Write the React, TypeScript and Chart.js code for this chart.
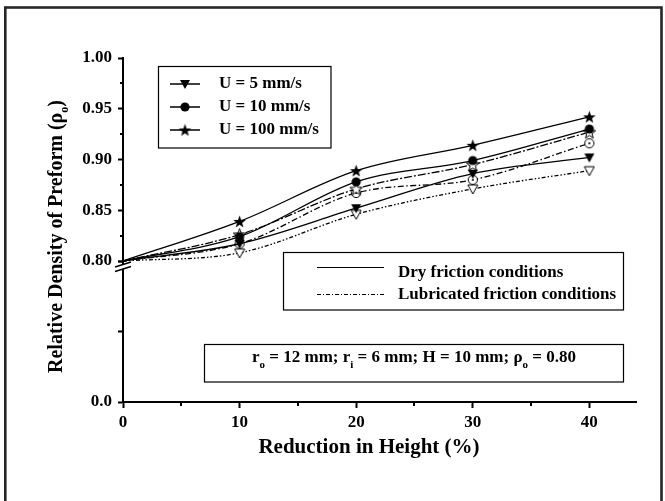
import React, { useEffect, useRef } from 'react';
import { Chart, registerables } from 'chart.js';

Chart.register(...registerables);

// Reduction in height (%) for every series
const reduction = [0, 10, 20, 30, 40];

// Relative density, dry friction
const dryU5 = [0.8, 0.817, 0.852, 0.886, 0.902];
const dryU10 = [0.8, 0.824, 0.878, 0.899, 0.93];
const dryU100 = [0.8, 0.839, 0.889, 0.914, 0.942];

// Relative density, lubricated friction
const lubU5 = [0.8, 0.808, 0.846, 0.871, 0.889];
const lubU10 = [0.8, 0.817, 0.867, 0.88, 0.916];
const lubU100 = [0.8, 0.826, 0.871, 0.895, 0.927];

const speedLabels = ['U = 5 mm/s', 'U = 10 mm/s', 'U = 100 mm/s'];
const frictionLabels = ['Dry friction conditions', 'Lubricated friction conditions'];
const xTitle = 'Reduction in Height (%)';

const xMinorTicks = [5, 15, 25, 35];
const yMinorTicks = [0.825, 0.875, 0.925, 0.975];

const FONT = "'Liberation Serif', 'Times New Roman', serif";

type Kind = 'tri' | 'circle' | 'star';

function makeMarker(kind: Kind, filled: boolean): HTMLCanvasElement {
  const size = kind === 'star' ? 15 : 12;
  const c = document.createElement('canvas');
  c.width = size;
  c.height = size;
  const g = c.getContext('2d')!;
  const m = size / 2;
  g.beginPath();
  if (kind === 'tri') {
    g.moveTo(m - 5, m - 4);
    g.lineTo(m + 5, m - 4);
    g.lineTo(m, m + 5);
    g.closePath();
  } else if (kind === 'circle') {
    g.arc(m, m, 4.6, 0, Math.PI * 2);
  } else {
    for (let k = 0; k < 10; k++) {
      const r = k % 2 === 0 ? 6.6 : 2.7;
      const a = -Math.PI / 2 + (k * Math.PI) / 5;
      const px = m + r * Math.cos(a);
      const py = m + 0.6 + r * Math.sin(a);
      if (k === 0) g.moveTo(px, py);
      else g.lineTo(px, py);
    }
    g.closePath();
  }
  if (filled) {
    g.fillStyle = '#000';
    g.fill();
  } else {
    g.fillStyle = '#fff';
    g.fill();
    g.lineWidth = 1;
    g.strokeStyle = '#000';
    g.stroke();
    if (kind === 'circle') {
      g.beginPath();
      g.arc(m, m, 1.1, 0, Math.PI * 2);
      g.fillStyle = '#000';
      g.fill();
    }
  }
  return c;
}

type Part = { t: string; sub?: boolean };

function drawRich(ctx: CanvasRenderingContext2D, parts: Part[], cx: number, cy: number, size: number) {
  const main = `bold ${size}px ${FONT}`;
  const small = `bold ${Math.round(size * 0.62)}px ${FONT}`;
  let total = 0;
  const widths = parts.map((p) => {
    ctx.font = p.sub ? small : main;
    const w = ctx.measureText(p.t).width;
    total += w;
    return w;
  });
  let x = cx - total / 2;
  ctx.textAlign = 'left';
  ctx.textBaseline = 'middle';
  ctx.fillStyle = '#000';
  parts.forEach((p, i) => {
    ctx.font = p.sub ? small : main;
    ctx.fillText(p.t, x, p.sub ? cy + size * 0.42 : cy);
    x += widths[i];
  });
}

function line(ctx: CanvasRenderingContext2D, x1: number, y1: number, x2: number, y2: number) {
  ctx.beginPath();
  ctx.moveTo(x1, y1);
  ctx.lineTo(x2, y2);
  ctx.stroke();
}

export default function App() {
  const ref = useRef<HTMLCanvasElement | null>(null);

  useEffect(() => {
    const canvas = ref.current;
    if (!canvas) return;

    const filledMarks = [makeMarker('tri', true), makeMarker('circle', true), makeMarker('star', true)];
    const openMarks = [makeMarker('tri', false), makeMarker('circle', false), makeMarker('star', false)];

    const pts = (ys: number[]) => reduction.map((x, i) => ({ x, y: ys[i] }));
    const radius = reduction.map((_, i) => (i === 0 ? 0 : 6));

    const series = (data: number[], mark: HTMLCanvasElement, dash: number[]) => ({
      data: pts(data),
      borderColor: '#000',
      backgroundColor: '#000',
      borderWidth: 1.3,
      borderDash: dash,
      pointStyle: mark,
      pointRadius: radius,
      pointHoverRadius: radius,
      cubicInterpolationMode: 'monotone' as const,
      clip: false as const,
      yAxisID: 'y',
    });

    const tickFont = { family: FONT, size: 17, weight: 'bold' as const };

    const decorations = {
      id: 'decorations',
      beforeDraw(chart: any) {
        const ctx: CanvasRenderingContext2D = chart.ctx;
        ctx.save();
        ctx.fillStyle = '#fff';
        ctx.fillRect(0, 0, chart.width, chart.height);
        ctx.strokeStyle = '#262626';
        ctx.lineWidth = 2.6;
        ctx.strokeRect(5.3, 7.5, 656.2, 520);
        ctx.restore();
      },
      afterDraw(chart: any) {
        const ctx: CanvasRenderingContext2D = chart.ctx;
        const xs = chart.scales.x;
        const ys = chart.scales.y;
        ctx.save();
        ctx.strokeStyle = '#000';
        ctx.lineWidth = 2;
        // minor ticks
        xMinorTicks.forEach((v) => {
          const px = Math.round(xs.getPixelForValue(v));
          line(ctx, px, xs.top, px, xs.top + 4);
        });
        yMinorTicks.forEach((v) => {
          const py = Math.round(ys.getPixelForValue(v));
          line(ctx, ys.right - 3, py, ys.right, py);
        });

        // axis break marks
        const ax = ys.right;
        const by = ys.bottom;
        ctx.fillStyle = '#fff';
        ctx.beginPath();
        ctx.moveTo(ax - 8, by + 6);
        ctx.lineTo(ax + 8, by + 1);
        ctx.lineTo(ax + 8, by + 5.5);
        ctx.lineTo(ax - 8, by + 10.5);
        ctx.closePath();
        ctx.fill();
        ctx.lineWidth = 1.6;
        line(ctx, ax - 8, by + 6, ax + 8, by + 1);
        line(ctx, ax - 8, by + 10.5, ax + 8, by + 5.5);

        // axis titles
        ctx.save();
        ctx.translate(57, 236.5);
        ctx.rotate(-Math.PI / 2);
        drawRich(ctx, [{ t: 'Relative Density of Preform (ρ' }, { t: 'o', sub: true }, { t: ')' }], 0, 0, 20);
        ctx.restore();
        drawRich(ctx, [{ t: xTitle }], 369, 448, 21);

        // legend: speeds
        ctx.lineWidth = 1.2;
        ctx.strokeStyle = '#000';
        ctx.strokeRect(158.5, 66.5, 172.5, 81.5);
        const ly = [84, 107, 130];
        ctx.lineWidth = 1.5;
        speedLabels.forEach((label, i) => {
          line(ctx, 170, ly[i], 200, ly[i]);
          const mk = filledMarks[i];
          ctx.drawImage(mk, 185 - mk.width / 2, ly[i] - mk.height / 2);
          ctx.font = `bold 17px ${FONT}`;
          ctx.fillStyle = '#000';
          ctx.textAlign = 'left';
          ctx.textBaseline = 'middle';
          ctx.fillText(label, 219, ly[i]);
        });

        // legend: friction conditions
        ctx.lineWidth = 1.2;
        ctx.strokeRect(283.5, 252.5, 340, 57.5);
        ctx.lineWidth = 1.2;
        line(ctx, 317, 267.5, 384, 267.5);
        ctx.setLineDash([4, 2, 1, 2]);
        ctx.lineWidth = 1;
        line(ctx, 317, 294.5, 384, 294.5);
        ctx.setLineDash([]);
        ctx.font = `bold 17px ${FONT}`;
        ctx.fillStyle = '#000';
        ctx.textAlign = 'left';
        ctx.textBaseline = 'middle';
        ctx.fillText(frictionLabels[0], 398, 273);
        ctx.fillText(frictionLabels[1], 398, 295);

        // process parameters
        ctx.lineWidth = 1.2;
        ctx.strokeRect(204.5, 344.5, 419, 37.5);
        drawRich(
          ctx,
          [
            { t: 'r' },
            { t: 'o', sub: true },
            { t: ' = 12 mm; r' },
            { t: 'i', sub: true },
            { t: ' = 6 mm; H = 10 mm; ρ' },
            { t: 'o', sub: true },
            { t: ' = 0.80' },
          ],
          414,
          358,
          17
        );
        ctx.restore();
      },
    };

    const axisBorder = { display: true, width: 2, color: '#000' };
    const axisGrid = { drawOnChartArea: false, drawTicks: true, tickLength: 5, tickWidth: 2, tickColor: '#000' };

    const chart = new Chart(canvas, {
      type: 'line',
      data: {
        datasets: [
          series(dryU100, filledMarks[2], []),
          series(dryU10, filledMarks[1], []),
          series(dryU5, filledMarks[0], []),
          series(lubU100, openMarks[2], [8, 2, 2, 2]),
          series(lubU10, openMarks[1], [6, 2.5, 1.5, 2.5]),
          series(lubU5, openMarks[0], [4, 2, 1.5, 2, 1.5, 2]),
        ],
      },
      options: {
        animation: false,
        responsive: false,
        devicePixelRatio: 1,
        layout: { padding: { left: 10, top: 58, right: 29, bottom: 37 } },
        plugins: { legend: { display: false }, tooltip: { enabled: false } },
        events: [],
        scales: {
          x: {
            type: 'linear',
            min: 0,
            max: 44,
            border: axisBorder,
            grid: { ...axisGrid, tickLength: 6 },
            ticks: {
              stepSize: 10,
              includeBounds: false,
              autoSkip: false,
              maxRotation: 0,
              padding: 4,
              color: '#000',
              font: tickFont,
              callback: (v: any) => String(v),
            },
            afterFit: (s: any) => {
              s.height = 62;
            },
          },
          yLow: {
            type: 'linear',
            position: 'left',
            stack: 'density',
            stackWeight: 141,
            min: 0,
            max: 0.8,
            border: axisBorder,
            grid: axisGrid,
            ticks: {
              stepSize: 0.4,
              autoSkip: false,
              padding: 6,
              color: '#000',
              font: tickFont,
              callback: (v: any) => (Number(v) === 0 ? '0.0' : ''),
            },
            afterFit: (s: any) => {
              s.width = 113;
            },
          },
          y: {
            type: 'linear',
            position: 'left',
            stack: 'density',
            stackWeight: 203,
            min: 0.8,
            max: 1.0,
            border: axisBorder,
            grid: axisGrid,
            ticks: {
              stepSize: 0.05,
              autoSkip: false,
              padding: 6,
              color: '#000',
              font: tickFont,
              callback: (v: any) => Number(v).toFixed(2),
            },
            afterFit: (s: any) => {
              s.width = 113;
            },
          },
        },
      } as any,
      plugins: [decorations],
    });

    return () => chart.destroy();
  }, []);

  return (
    <div style={{ position: 'fixed', left: 0, top: 0, width: 665, height: 501, background: '#fff' }}>
      <canvas ref={ref} width={665} height={501} style={{ display: 'block' }} />
    </div>
  );
}
